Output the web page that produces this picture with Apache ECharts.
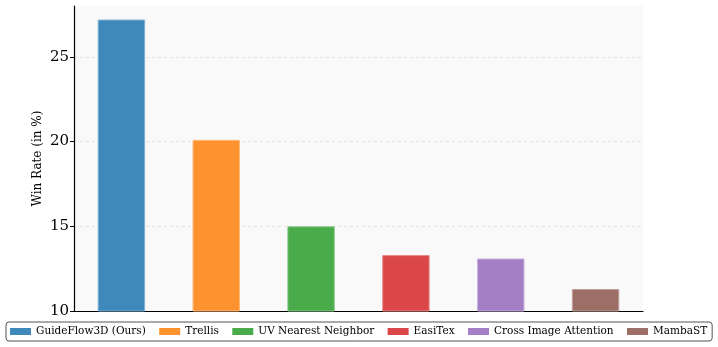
<!DOCTYPE html>
<html>
<head>
<meta charset="utf-8">
<script src="https://cdn.jsdelivr.net/npm/echarts@6/dist/echarts.min.js"></script>
<style>
html, body { margin: 0; padding: 0; background: #fff; }
#main { width: 718px; height: 347px; }
</style>
</head>
<body>
<div id="main"></div>
<script>
// methods compared
var methods = ['GuideFlow3D (Ours)', 'Trellis', 'UV Nearest Neighbor', 'EasiTex', 'Cross Image Attention', 'MambaST'];
// win rate in %
var winRates = [27.2, 20.1, 15.0, 13.3, 13.1, 11.3];
var yTicks = [10, 15, 20, 25];
var colors = ['#3f88bc', '#fe922f', '#4aab4a', '#db4748', '#a57fc6', '#9d6e66'];
var edgeColors = ['#7fb0d4', '#ffb878', '#88c888', '#e88a8a', '#c6b0dc', '#c0a29c'];

var serif = 'DejaVu Serif';
var chart = echarts.init(document.getElementById('main'));

var series = methods.map(function(name, i) {
	var data = methods.map(function(m, j) {
		return j === i ? winRates[j] : '-';
	});
	return {
		name: name,
		type: 'bar',
		stack: 'all',
		barWidth: '50%',
		data: data,
		itemStyle: {
			color: colors[i],
			borderColor: edgeColors[i],
			borderWidth: 1
		},
		emphasis: { disabled: true }
	};
});

chart.setOption({
	animation: false,
	grid: {
		left: 74,
		right: 75,
		top: 6,
		bottom: 36,
		show: true,
		backgroundColor: '#f9f9f9',
		borderWidth: 0
	},
	legend: {
		data: methods.map(function(m, i) {
			return { name: m, itemStyle: { color: colors[i], borderWidth: 0 } };
		}),
		left: 6,
		top: 322,
		width: 712,
		padding: [4, 5, 4, 4],
		itemGap: 13.4,
		itemWidth: 21,
		itemHeight: 7,
		icon: 'rect',
		borderColor: '#555',
		borderWidth: 1,
		borderRadius: 3,
		textStyle: {
			fontFamily: serif,
			fontSize: 10.5,
			color: '#000'
		}
	},
	xAxis: {
		type: 'category',
		data: methods,
		axisLine: { lineStyle: { color: '#000', width: 1.2 } },
		axisTick: { show: false },
		axisLabel: { show: false },
		splitLine: { show: false }
	},
	yAxis: {
		type: 'value',
		min: 10,
		max: 28,
		interval: 5,
		name: 'Win Rate (in %)',
		nameLocation: 'middle',
		nameRotate: 90,
		nameGap: 30,
		nameMoveOverlap: false,
		nameTextStyle: { fontFamily: serif, fontSize: 12, color: '#000' },
		axisLine: { show: true, lineStyle: { color: '#000', width: 1.2 } },
		axisTick: { show: true, length: 4, customValues: yTicks, lineStyle: { color: '#000' } },
		axisLabel: { customValues: yTicks, margin: 5, fontFamily: serif, fontSize: 15, color: '#000' },
		splitLine: { show: true, lineStyle: { color: '#e2e2e2', type: [3, 3], width: 1 } }
	},
	series: series
});
</script>
</body>
</html>
